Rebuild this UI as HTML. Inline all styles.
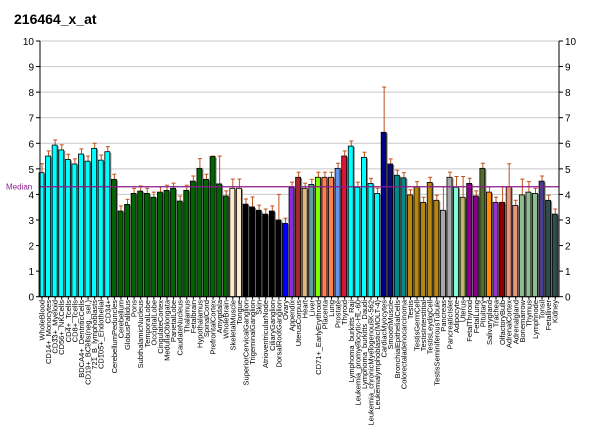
<!DOCTYPE html>
<html><head><meta charset="utf-8"><style>
body{margin:0;background:#fff;}
svg{display:block;font-family:"Liberation Sans",Arial,sans-serif;}
</style></head><body>
<svg id="c" width="600" height="434" xmlns="http://www.w3.org/2000/svg">
<text x="14" y="24" font-size="14" font-weight="bold">216464_x_at</text>
</svg>
<script>
var s=document.getElementById('c'),NS='http://www.w3.org/2000/svg';
function el(t,a,txt){var e=document.createElementNS(NS,t);for(var k in a)e.setAttribute(k,a[k]);if(txt!=null)e.textContent=txt;s.appendChild(e);return e;}
var y0=296.7,u=25.57,L=40,R=559;
function Y(v){return y0-v*u;}
for(var i=0;i<=10;i++){var y=Y(i);
 if(i>0)el('line',{x1:L,x2:R,y1:y,y2:y,stroke:'#c8c8c8','stroke-width':1});
 el('line',{x1:L-4,x2:L,y1:y,y2:y,stroke:'#000'});el('line',{x1:R,x2:R+4,y1:y,y2:y,stroke:'#000'});
 el('text',{x:L-6,y:y+4,'font-size':10,'text-anchor':'end'},i);
 el('text',{x:R+6,y:y+4,'font-size':10},i);}
var names=["WholeBlood","CD14+_Monocytes","CD33+_Myeloid","CD56+_NKCells","CD4+_Tcells","CD8+_Tcells","BDCA4+_DentriticCells","CD19+_BCells(neg._sel.)","721_B_lymphoblasts","CD105+_Endothelial","CD34+","CerebellumPeduncles","Cerebellum","GlobusPallidus","Pons","SubthalamicNucleus","TemporalLobe","OccipitalLobe","CingulateCortex","MedullaOblongata","ParietalLobe","CaudateNucleus","Thalamus","Fetalbrain","Hypothalamus","SpinalCord","PrefrontalCortex","Amygdala","WholeBrain","SkeletalMuscle","Tongue","SuperiorCervicalGanglion","TrigeminalGanglion","Skin","AtrioventricularNode","CiliaryGanglion","DorsalRootGanglion","Ovary","Appendix","UterusCorpus","Heart","Liver","CD71+_EarlyErythroid","Placenta","Lung","Prostate","Thyroid","Lymphoma_burkitts_Raji","Leukemia_promyelocytic-HL-60","Lymphoma_burkitts_Daudi","Leukemia_chronicMyelogenousK-562","Leukemialymphoblastic(MOLT-4)","CardiacMyocytes","SmoothMuscle","BronchialEpithelialCells","Colorectaladenocarcinoma","Testis","TestisGermCell","TestisInterstitial","TestisLeydigCell","TestisSeminiferousTubule","Pancreas","PancreaticIslet","Adipocyte","Uterus","FetalThyroid","FetalLung","Pituitary","Salivarygland","Trachea","OlfactoryBulb","AdrenalCortex","Adrenalgland","Bonemarrow","Thymus","Lymphnode","Tonsil","Fetalliver","Kidney"];
var v=[4.85,5.5,5.93,5.74,5.37,5.19,5.58,5.3,5.8,5.34,5.67,4.59,3.35,3.61,4.04,4.13,4.04,3.89,4.09,4.16,4.24,3.74,4.16,4.52,5.02,4.59,5.48,4.41,3.94,4.24,4.24,3.62,3.51,3.38,3.23,3.35,3.0,2.87,4.28,4.67,4.24,4.39,4.67,4.67,4.67,5.02,5.5,5.89,4.28,5.45,4.43,4.04,6.43,5.19,4.75,4.65,3.98,4.3,3.69,4.47,3.77,3.38,4.67,4.28,3.89,4.43,3.94,5.02,4.09,3.69,3.69,4.3,3.57,3.98,4.09,4.04,4.52,3.77,3.23];
var ex={1:5.2,25:5.4,27:5.5,28:5.5,30:4.6,31:4.6,37:4.0,53:8.2,62:4.3,64:4.7,65:4.7,72:5.2,74:4.6,75:4.5,71:4.3,33:3.9};
var cols=[];
function f(a,b,c){for(var i=a;i<=b;i++)cols[i]=c;}
f(1,11,'#00ffff');f(12,29,'#006400');f(30,31,'#ffebcd');f(32,37,'#000000');f(38,38,'#0000ff');f(39,39,'#8a2be2');f(40,40,'#a52a2a');f(41,41,'#deb887');f(42,42,'#5f9ea0');f(43,43,'#7fff00');f(44,45,'#ff7f50');f(46,46,'#6495ed');f(47,47,'#dc143c');f(48,52,'#00ffff');f(53,53,'#00008b');f(54,54,'#0a0a70');f(55,56,'#008b8b');f(57,61,'#b8860b');f(62,63,'#a9a9a9');f(64,64,'#7fffd4');f(65,65,'#bdb76b');f(66,67,'#8b008b');f(68,68,'#556b2f');f(69,69,'#ff8c00');f(70,70,'#9932cc');f(71,71,'#8b0000');f(72,73,'#e9967a');f(74,76,'#8fbc8f');f(77,77,'#483d8b');f(78,79,'#2f4f4f');
var p=6.58,x1=42;
for(var i=0;i<79;i++){var cx=x1+i*p,y=Y(v[i]);
 var et=ex[i+1]||v[i]+0.2;
 el('line',{x1:cx,x2:cx,y1:Y(et),y2:y,stroke:'#c0501a','stroke-width':1});
 el('line',{x1:cx-2,x2:cx+2,y1:Y(et),y2:Y(et),stroke:'#c0501a','stroke-width':1});
 el('rect',{x:cx-1.5,y:y+1,width:5,height:y0-y-1,fill:'#888'});
 el('rect',{x:cx-3,y:y,width:5,height:y0-y,fill:cols[i+1],stroke:'#000','stroke-width':0.8});
 el('line',{x1:cx,x2:cx,y1:y0,y2:y0+3,stroke:'#000'});
 el('text',{transform:'translate('+(cx+2.5)+',300) rotate(-90)','font-size':7.5,'text-anchor':'end'},names[i]);}
el('line',{x1:L,x2:R,y1:Y(4.3),y2:Y(4.3),stroke:'#8b1a8b','stroke-width':1.2});
el('text',{x:6,y:Y(4.3)+3,'font-size':8,fill:'#8b1a8b'},'Median');
el('line',{x1:L,x2:L,y1:Y(10),y2:y0,stroke:'#000'});
el('line',{x1:R,x2:R,y1:Y(10),y2:y0,stroke:'#000'});
el('line',{x1:L,x2:R,y1:y0,y2:y0,stroke:'#000'});
</script>
</body></html>
